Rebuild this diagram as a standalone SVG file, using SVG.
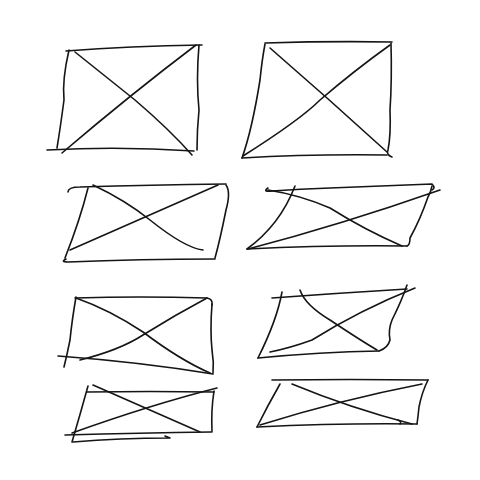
<svg xmlns="http://www.w3.org/2000/svg" width="480" height="480" viewBox="0 0 480 480">
<style>
path{fill:none;stroke:#151515;stroke-width:1.6;stroke-linecap:round;stroke-linejoin:round}
</style>
<rect width="480" height="480" fill="#ffffff"/>
<g id="sketch1">
<path d="M66,51 Q130,46 202,45"/>
<path d="M69,50 Q62,80 64,100 Q60,130 57,148"/>
<path d="M47,150 Q120,146 194,151"/>
<path d="M199,45 Q196,80 199,110 Q197,130 197,150"/>
<path d="M75,52 Q110,80 135,100 Q170,130 192,155"/>
<path d="M62,153 Q130,95 196,45"/>
</g>
<g id="sketch2">
<path d="M265,43 Q330,41 392,42"/>
<path d="M265,44 Q262,60 260,80 Q252,130 242,158"/>
<path d="M242,158 Q310,154 387,155"/>
<path d="M391,43 Q392,80 390,110 Q391,135 388,150 Q386,155 392,157"/>
<path d="M270,48 Q330,100 387,152"/>
<path d="M243,156 Q300,120 320,100 Q355,70 390,45"/>
</g>
<g id="sketch3">
<path d="M68,192 Q68,187 80,187 Q150,185 226,184"/>
<path d="M88,188 Q80,220 65,258"/>
<path d="M66,259 Q60,262 68,262 Q140,259 215,259"/>
<path d="M226,185 Q231,192 226,210 Q220,240 215,258"/>
<path d="M93,185 Q125,200 150,220 Q185,248 203,250"/>
<path d="M70,250 Q150,215 218,185"/>
</g>
<g id="sketch4">
<path d="M268,188 Q262,192 272,191 Q300,189 330,188 Q380,186 432,184 Q436,188 432,190"/>
<path d="M295,186 Q280,225 247,249"/>
<path d="M247,249 Q330,245 407,246"/>
<path d="M432,186 Q431,192 428,197 Q420,220 410,238 Q410,245 407,246"/>
<path d="M268,190 Q300,195 330,208 Q365,230 402,246"/>
<path d="M248,249 Q340,225 440,190"/>
</g>
<g id="sketch5">
<path d="M75,298 Q140,296 207,298 Q213,299 212,305"/>
<path d="M76,297 Q72,320 70,340 Q67,355 64,367"/>
<path d="M58,356 Q140,362 213,374"/>
<path d="M212,304 Q210,330 212,350 Q214,362 213,373"/>
<path d="M76,298 Q110,310 143,332 Q180,360 210,373"/>
<path d="M80,360 Q120,350 143,335 Q175,315 207,298"/>
</g>
<g id="sketch6">
<path d="M87,392 Q150,391 214,392"/>
<path d="M88,386 Q80,415 72,442"/>
<path d="M65,435 Q140,433 211,432"/>
<path d="M73,442 Q120,438 170,438 L165,436"/>
<path d="M214,391 Q211,410 212,432"/>
<path d="M93,385 Q150,410 200,432"/>
<path d="M72,433 Q150,405 217,388"/>
</g>
<g id="sketch7">
<path d="M272,298 Q340,293 407,289"/>
<path d="M282,292 Q277,320 258,358"/>
<path d="M258,358 Q320,352 379,351"/>
<path d="M407,285 Q402,300 392,320 Q388,330 390,340 Q388,348 379,351"/>
<path d="M300,290 Q305,305 330,320 Q360,340 377,350"/>
<path d="M270,352 Q290,348 312,340 Q360,310 415,288"/>
</g>
<g id="sketch8">
<path d="M272,380 Q350,379 428,380"/>
<path d="M280,384 Q268,405 257,427"/>
<path d="M257,427 Q340,423 417,424"/>
<path d="M428,380 Q422,392 419,407 Q418,417 417,424"/>
<path d="M292,384 Q350,408 412,424"/>
<path d="M260,425 Q340,400 422,384"/>
<path d="M398,420 Q402,422 400,424"/>
</g>
</svg>
